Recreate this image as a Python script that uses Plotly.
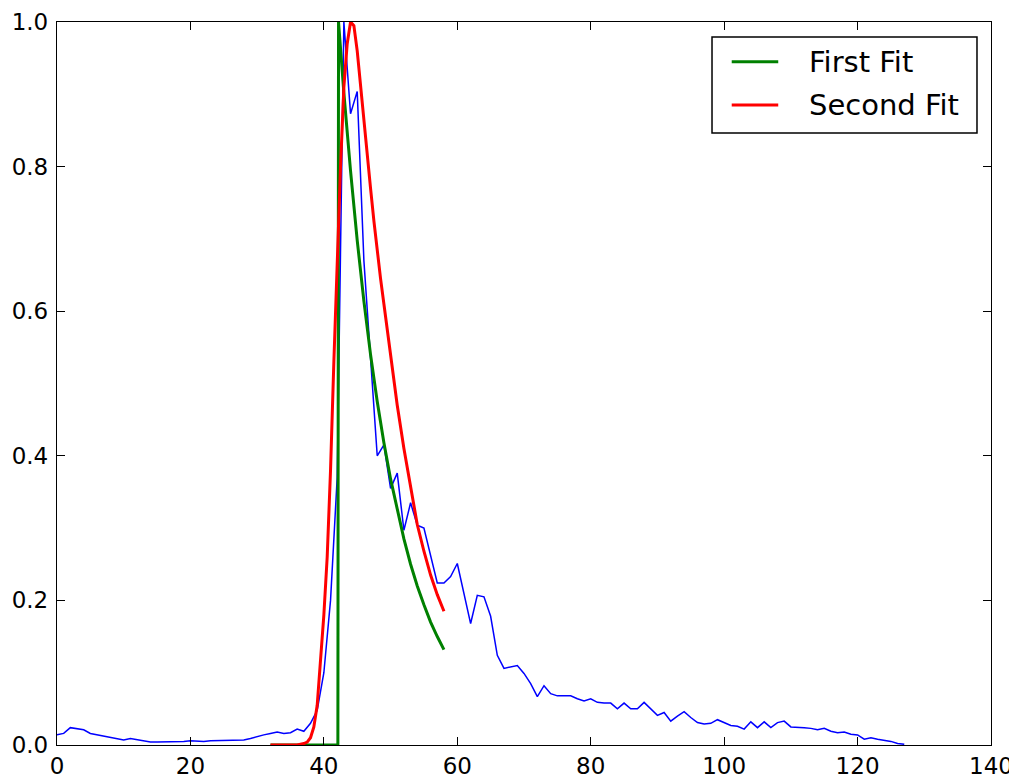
import plotly.graph_objects as go

# Measured signal (x = 0..127)
signal_x = list(range(128))
signal_y = [
    0.014, 0.016, 0.024, 0.022, 0.021, 0.016, 0.014, 0.012, 0.011, 0.008,
    0.007, 0.009, 0.007, 0.005, 0.004, 0.004, 0.004, 0.004, 0.005, 0.005,
    0.006, 0.005, 0.005, 0.006, 0.006, 0.006, 0.006, 0.007, 0.007, 0.009,
    0.012, 0.014, 0.016, 0.018, 0.016, 0.017, 0.022, 0.019, 0.030, 0.048,
    0.100, 0.200, 0.370, 1.000, 0.873, 0.904, 0.670, 0.530, 0.400, 0.415,
    0.355, 0.376, 0.297, 0.335, 0.304, 0.300, 0.262, 0.224, 0.224, 0.233,
    0.251, 0.210, 0.168, 0.207, 0.205, 0.178, 0.124, 0.106, 0.108, 0.110,
    0.099, 0.085, 0.067, 0.082, 0.071, 0.068, 0.068, 0.068, 0.064, 0.061,
    0.064, 0.059, 0.058, 0.058, 0.050, 0.058, 0.050, 0.050, 0.059, 0.050,
    0.041, 0.045, 0.033, 0.040, 0.046, 0.038, 0.031, 0.029, 0.030, 0.035,
    0.031, 0.027, 0.026, 0.022, 0.032, 0.024, 0.032, 0.024, 0.031, 0.033,
    0.025, 0.025, 0.024, 0.023, 0.021, 0.023, 0.019, 0.017, 0.018, 0.015,
    0.014, 0.008, 0.010, 0.008, 0.007, 0.005, 0.002, 0.001,
]

# First fit (green)
first_x = [32, 33, 34, 35, 36, 37, 38, 39, 40, 41, 42, 42.1, 42.2, 43, 44, 45, 46,
           47, 48, 49, 50, 51, 52, 53, 54, 55, 56, 57, 58]
first_y = [0, 0, 0, 0, 0, 0, 0, 0, 0, 0, 0, 0, 1.0, 0.902, 0.794, 0.698, 0.614,
           0.540, 0.475, 0.418, 0.368, 0.324, 0.285, 0.250, 0.220, 0.194, 0.170, 0.150, 0.132]

# Second fit (red)
second_x = [32, 33, 34, 35, 36, 37, 37.5, 38, 38.5, 39, 39.5, 40, 40.5, 41, 41.5, 42,
            42.5, 43, 43.5, 44, 44.5, 45, 45.5, 46, 46.5, 47, 47.5, 48, 48.5, 49,
            49.5, 50, 51, 52, 53, 54, 55, 56, 57, 58]
second_y = [0, 0, 0, 0, 0, 0.002, 0.004, 0.010, 0.025, 0.055, 0.115, 0.180, 0.260,
            0.380, 0.530, 0.670, 0.800, 0.910, 0.970, 1.000, 0.995, 0.960, 0.910,
            0.860, 0.815, 0.770, 0.725, 0.680, 0.645, 0.610, 0.575, 0.540, 0.470,
            0.410, 0.355, 0.305, 0.268, 0.235, 0.208, 0.185]

x_ticks = [0, 20, 40, 60, 80, 100, 120, 140]
y_ticks = [0.0, 0.2, 0.4, 0.6, 0.8, 1.0]

legend_names = ["First Fit", "Second Fit"]
legend_colors = ["#008000", "#ff0000"]

fig = go.Figure()
fig.add_trace(go.Scatter(x=signal_x, y=signal_y, mode="lines",
                         line=dict(color="#0000ff", width=1.5), showlegend=False))
fig.add_trace(go.Scatter(x=first_x, y=first_y, mode="lines", name=legend_names[0],
                         line=dict(color=legend_colors[0], width=3), showlegend=False))
fig.add_trace(go.Scatter(x=second_x, y=second_y, mode="lines", name=legend_names[1],
                         line=dict(color=legend_colors[1], width=3), showlegend=False))

axis_common = dict(showgrid=False, zeroline=False, showline=True, linecolor="black",
                   linewidth=1.3, mirror="ticks", ticks="inside", ticklen=8,
                   tickwidth=1, tickcolor="black", automargin=False,
                   tickfont=dict(family="DejaVu Sans", size=23, color="black"))

fig.update_xaxes(range=[0, 140], tickvals=x_ticks, ticktext=[str(v) for v in x_ticks],
                 **axis_common)
fig.update_yaxes(range=[0, 1.0], tickvals=y_ticks, ticktext=[f"{v:.1f}" for v in y_ticks],
                 ticklabelstandoff=3, **axis_common)

# Legend box drawn in paper coordinates (matplotlib-style framed legend)
shapes = [dict(type="rect", xref="paper", yref="paper", x0=0.7013, x1=0.985,
               y0=0.8465, y1=0.9793, line=dict(color="black", width=1.5),
               fillcolor="white", layer="above")]
annotations = []
legend_rows_y = [0.9451, 0.8852]
for name, color, ly in zip(legend_names, legend_colors, legend_rows_y):
    shapes.append(dict(type="line", xref="paper", yref="paper", x0=0.7224, x1=0.7722,
                       y0=ly, y1=ly, line=dict(color=color, width=3), layer="above"))
    annotations.append(dict(xref="paper", yref="paper", x=0.8035, y=ly,
                            xanchor="left", yanchor="middle", text=name, showarrow=False,
                            font=dict(family="DejaVu Sans", size=29, color="black")))

# The page body adds an ~8px offset, so the figure is sized to fit the window
fig.update_layout(
    width=1009, height=772,
    margin=dict(l=49, r=26, t=14, b=35, autoexpand=False),
    paper_bgcolor="white", plot_bgcolor="white",
    font=dict(family="DejaVu Sans", color="black"),
    showlegend=False,
    shapes=shapes, annotations=annotations,
)

fig.write_html("out.html")
